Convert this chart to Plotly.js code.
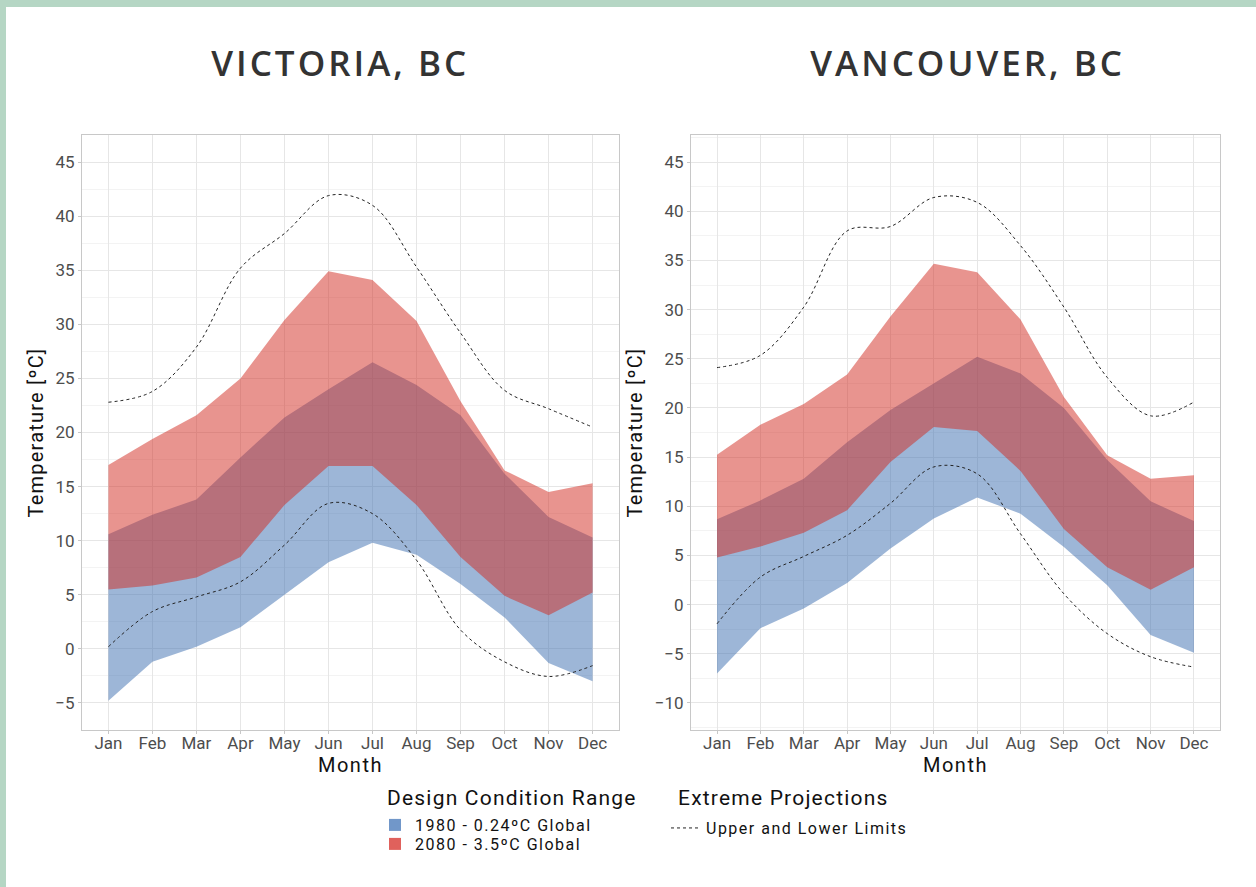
<!DOCTYPE html>
<html>
<head>
<meta charset="utf-8">
<script src="https://cdn.plot.ly/plotly-3.0.1.min.js"></script>
<style>
  html, body { margin: 0; padding: 0; background: #b5d6c4; width: 1256px; height: 887px; overflow: hidden; }
  #chart { position: absolute; left: 6px; top: 7px; width: 1250px; height: 880px; background: #ffffff; }
  .legendtext, .legend2text, .legend3text { letter-spacing: 1.5px; }
  .annotation-text { letter-spacing: 1.2px; }
  .xtitle, .x2title { letter-spacing: 1.5px; }
  .ytitle, .y2title { letter-spacing: 1.2px; }
</style>
</head>
<body>
<div id="chart"></div>
<script>
// ---------------- DATA ----------------
const months = ['Jan','Feb','Mar','Apr','May','Jun','Jul','Aug','Sep','Oct','Nov','Dec'];

// Victoria, BC
const vic1980Low  = [-4.8, -1.2, 0.2, 2.0, 5.0, 8.0, 9.8, 8.7, 6.0, 2.9, -1.3, -3.0];
const vic1980High = [10.6, 12.4, 13.8, 17.7, 21.4, 24.0, 26.5, 24.4, 21.6, 16.2, 12.2, 10.3];
const vic2080Low  = [5.5, 5.85, 6.6, 8.5, 13.3, 16.9, 16.9, 13.3, 8.5, 4.9, 3.1, 5.2];
const vic2080High = [17.0, 19.4, 21.6, 25.0, 30.4, 34.9, 34.1, 30.3, 22.9, 16.5, 14.5, 15.3];
const vicExtUpper = [22.8, 23.8, 27.9, 35.2, 38.4, 41.9, 41.0, 35.3, 29.2, 23.9, 22.2, 20.5];
const vicExtLower = [0.2, 3.45, 4.8, 6.2, 9.6, 13.45, 12.5, 8.2, 1.75, -1.2, -2.55, -1.55];

// Vancouver, BC
const van1980Low  = [-7.0, -2.4, -0.4, 2.2, 5.7, 8.75, 10.9, 9.25, 5.85, 1.96, -3.1, -4.9];
const van1980High = [8.67, 10.6, 12.8, 16.5, 19.8, 22.5, 25.2, 23.5, 20.0, 14.7, 10.5, 8.5];
const van2080Low  = [4.78, 5.9, 7.3, 9.6, 14.5, 18.05, 17.65, 13.6, 7.7, 3.8, 1.5, 3.8];
const van2080High = [15.25, 18.3, 20.4, 23.4, 29.3, 34.65, 33.8, 29.0, 21.1, 15.2, 12.8, 13.15];
const vanExtUpper = [24.1, 25.35, 30.25, 38.0, 38.45, 41.4, 40.9, 36.5, 30.25, 23.1, 19.2, 20.6];
const vanExtLower = [-1.95, 2.8, 4.9, 7.05, 10.3, 14.0, 13.3, 7.2, 1.1, -2.95, -5.3, -6.35];

const cityTitles = ['VICTORIA, BC', 'VANCOUVER, BC'];
const seriesNames = ['1980 - 0.24ºC Global', '2080 - 3.5ºC Global', 'Upper and Lower Limits'];
const legendTitles = ['Design Condition Range', 'Extreme Projections'];

// ---------------- STYLE ----------------
const fill1980 = 'rgba(59,109,175,0.5)';
const fill2080 = 'rgba(209,41,31,0.5)';
const key1980 = '#7197C9';
const key2080 = '#E0615C';
const dotColor = '#222222';
const FONT = 'Roboto, "Noto Sans", sans-serif';

function band(low, high, color, xa, ya) {
  return [
    { x: months, y: low, xaxis: xa, yaxis: ya, type: 'scatter', mode: 'lines',
      line: { width: 0 }, showlegend: false, hoverinfo: 'skip' },
    { x: months, y: high, xaxis: xa, yaxis: ya, type: 'scatter', mode: 'lines',
      line: { width: 0 }, fill: 'tonexty', fillcolor: color, showlegend: false, hoverinfo: 'skip' }
  ];
}
function extLine(vals, xa, ya, show) {
  return { x: months, y: vals, xaxis: xa, yaxis: ya, type: 'scatter', mode: 'lines',
    line: { color: dotColor, width: 1, dash: '3px,3px', shape: 'spline', smoothing: 1 },
    name: seriesNames[2], showlegend: !!show, legend: 'legend3', hoverinfo: 'skip' };
}

const traces = [].concat(
  band(vic1980Low, vic1980High, fill1980, 'x', 'y'),
  band(vic2080Low, vic2080High, fill2080, 'x', 'y'),
  [extLine(vicExtUpper, 'x', 'y', true), extLine(vicExtLower, 'x', 'y', false)],
  band(van1980Low, van1980High, fill1980, 'x2', 'y2'),
  band(van2080Low, van2080High, fill2080, 'x2', 'y2'),
  [extLine(vanExtUpper, 'x2', 'y2', false), extLine(vanExtLower, 'x2', 'y2', false)],
  [
    { x: [null], y: [null], type: 'bar', name: seriesNames[0], marker: { color: key1980 },
      legend: 'legend', showlegend: true, xaxis: 'x', yaxis: 'y', hoverinfo: 'skip' },
    { x: [null], y: [null], type: 'bar', name: seriesNames[1], marker: { color: key2080 },
      legend: 'legend2', showlegend: true, xaxis: 'x', yaxis: 'y', hoverinfo: 'skip' }
  ]
);

const tickFont = { family: FONT, size: 17, color: '#4d4d4d' };
const titleFont = { family: FONT, size: 20, color: '#111111' };

function xAxis(domain, anchor) {
  return {
    domain: domain, anchor: anchor, type: 'category', range: [-0.6, 11.6],
    showgrid: true, gridcolor: '#e6e6e6', gridwidth: 1,
    showline: true, mirror: true, linecolor: '#c8c8c8', linewidth: 1,
    ticks: 'outside', ticklen: 3, tickcolor: '#c8c8c8', ticklabelstandoff: -5,
    tickfont: tickFont, zeroline: false, fixedrange: true,
    title: { text: 'Month', font: titleFont, standoff: 0 }
  };
}
function yAxis(range, anchor) {
  return {
    domain: [0.1784, 0.8545], anchor: anchor, range: range,
    tick0: 0, dtick: 5,
    showgrid: true, gridcolor: '#e6e6e6', gridwidth: 1,
    minor: { tick0: 0, dtick: 2.5, showgrid: true, gridcolor: '#f3f3f3', gridwidth: 1 },
    showline: true, mirror: true, linecolor: '#c8c8c8', linewidth: 1,
    ticks: 'outside', ticklen: 3, tickcolor: '#c8c8c8',
    tickfont: tickFont, zeroline: false, fixedrange: true,
    title: { text: 'Temperature [ºC]', font: titleFont, standoff: 6 }
  };
}

const legendBase = {
  bgcolor: 'rgba(0,0,0,0)', borderwidth: 0,
  font: { family: FONT, size: 16, color: '#111111' },
  xanchor: 'left', yanchor: 'middle', itemclick: false, itemdoubleclick: false
};

const cityFont = { family: '"Open Sans", sans-serif', size: 35, color: '#333333', weight: 600 };
const legTitleFont = { family: FONT, size: 21, color: '#111111' };

const layout = {
  width: 1250, height: 880,
  margin: { l: 0, r: 0, t: 0, b: 0 },
  paper_bgcolor: '#ffffff', plot_bgcolor: '#ffffff',
  font: { family: FONT },
  xaxis: xAxis([0.0608, 0.4904], 'y'),
  yaxis: yAxis([-7.5, 47.5], 'x'),
  xaxis2: xAxis([0.548, 0.9712], 'y2'),
  yaxis2: yAxis([-12.75, 47.75], 'x2'),
  showlegend: true,
  legend: Object.assign({}, legendBase, { x: 0.2952, y: 1 - 818/880 }),
  legend2: Object.assign({}, legendBase, { x: 0.2952, y: 1 - 837/880 }),
  legend3: Object.assign({}, legendBase, { x: 0.528, y: 0.0670 }),
  annotations: [
    { text: cityTitles[0], xref: 'paper', yref: 'paper', x: 334/1250, y: 1 - 56/880,
      xanchor: 'center', yanchor: 'middle', showarrow: false, font: cityFont },
    { text: cityTitles[1], xref: 'paper', yref: 'paper', x: 962/1250, y: 1 - 56/880,
      xanchor: 'center', yanchor: 'middle', showarrow: false, font: cityFont },
    { text: legendTitles[0], xref: 'paper', yref: 'paper', x: 379/1250, y: 1 - 791/880,
      xanchor: 'left', yanchor: 'middle', showarrow: false, font: legTitleFont },
    { text: legendTitles[1], xref: 'paper', yref: 'paper', x: 670/1250, y: 1 - 791/880,
      xanchor: 'left', yanchor: 'middle', showarrow: false, font: legTitleFont }
  ]
};

Plotly.newPlot('chart', traces, layout, { staticPlot: true, displayModeBar: false }).then(function () {
  // widen the panel titles to match the reference lettering
  document.querySelectorAll('.annotation-text').forEach(function (t, i) {
    if (i < 2) t.style.letterSpacing = '3px';
  });
});
</script>
</body>
</html>
